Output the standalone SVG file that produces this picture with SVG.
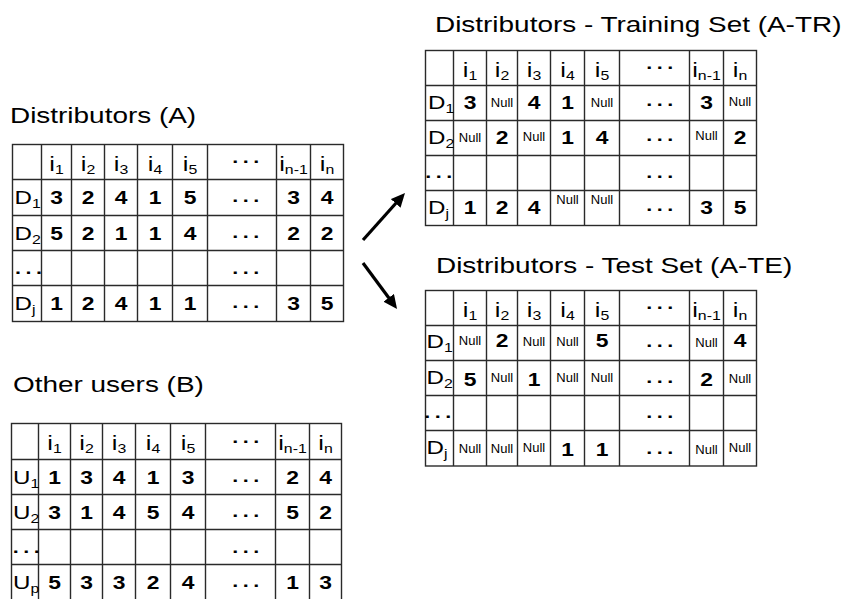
<svg xmlns="http://www.w3.org/2000/svg" width="847" height="599" viewBox="0 0 847 599">
<style>
text{font-family:"Liberation Sans",Arial,Helvetica,sans-serif;fill:#000}
.ti{font-size:22px}
.hd{font-size:20px;text-anchor:middle}
.sb{font-size:12.5px}
.lb{font-size:19px}
.nm{font-size:18px;font-weight:bold;text-anchor:middle}
.nl{font-size:13px;text-anchor:middle}
.dt{font-size:17px;font-weight:bold;text-anchor:middle;letter-spacing:3.5px}
.grid{fill:none;stroke:#2a2a2a;stroke-width:1.4}
.arr{stroke:#000;stroke-width:3.2;fill:none}
</style>
<defs>
<marker id="ah" markerUnits="userSpaceOnUse" markerWidth="14" markerHeight="13" refX="5" refY="6.5" orient="auto">
<path d="M0,0 L14,6.5 L0,13 z" fill="#000"/>
</marker>
</defs>
<rect width="847" height="599" fill="#fff"/>

<g id="tableA">
<text class="ti" transform="translate(10 123) scale(1.27 1)">Distributors (A)</text>
<rect class="grid" x="12.5" y="144.5" width="331" height="177"/>
<path class="grid" d="M41.5,144.5V321.5M71.5,144.5V321.5M104.5,144.5V321.5M137.5,144.5V321.5M172.5,144.5V321.5M207.5,144.5V321.5M276.5,144.5V321.5M310.5,144.5V321.5M12.5,179.5H343.5M12.5,215.5H343.5M12.5,250.5H343.5M12.5,285.5H343.5"/>
<text class="hd" transform="translate(56.5 170.5) scale(1.27 1)">i<tspan class="sb" dy="3">1</tspan></text>
<text class="hd" transform="translate(88 170.5) scale(1.27 1)">i<tspan class="sb" dy="3">2</tspan></text>
<text class="hd" transform="translate(121 170.5) scale(1.27 1)">i<tspan class="sb" dy="3">3</tspan></text>
<text class="hd" transform="translate(155 170.5) scale(1.27 1)">i<tspan class="sb" dy="3">4</tspan></text>
<text class="hd" transform="translate(190 170.5) scale(1.27 1)">i<tspan class="sb" dy="3">5</tspan></text>
<text class="dt" transform="translate(248 163) scale(1.27 1)">...</text>
<text class="hd" transform="translate(293.5 170.5) scale(1.27 1)">i<tspan class="sb" dy="3">n-1</tspan></text>
<text class="hd" transform="translate(327 170.5) scale(1.27 1)">i<tspan class="sb" dy="3">n</tspan></text>
<text class="lb" transform="translate(14.5 204) scale(1.27 1)">D<tspan class="sb" dy="4">1</tspan></text>
<text class="nm" transform="translate(56.5 204) scale(1.27 1)">3</text>
<text class="nm" transform="translate(88 204) scale(1.27 1)">2</text>
<text class="nm" transform="translate(121 204) scale(1.27 1)">4</text>
<text class="nm" transform="translate(155 204) scale(1.27 1)">1</text>
<text class="nm" transform="translate(190 204) scale(1.27 1)">5</text>
<text class="dt" transform="translate(248 202) scale(1.27 1)">...</text>
<text class="nm" transform="translate(293.5 204) scale(1.27 1)">3</text>
<text class="nm" transform="translate(327 204) scale(1.27 1)">4</text>
<text class="lb" transform="translate(14.5 239.5) scale(1.27 1)">D<tspan class="sb" dy="4">2</tspan></text>
<text class="nm" transform="translate(56.5 239.5) scale(1.27 1)">5</text>
<text class="nm" transform="translate(88 239.5) scale(1.27 1)">2</text>
<text class="nm" transform="translate(121 239.5) scale(1.27 1)">1</text>
<text class="nm" transform="translate(155 239.5) scale(1.27 1)">1</text>
<text class="nm" transform="translate(190 239.5) scale(1.27 1)">4</text>
<text class="dt" transform="translate(248 237.5) scale(1.27 1)">...</text>
<text class="nm" transform="translate(293.5 239.5) scale(1.27 1)">2</text>
<text class="nm" transform="translate(327 239.5) scale(1.27 1)">2</text>
<text class="dt" transform="translate(30.7 273.5) scale(1.27 1)">...</text>
<text class="dt" transform="translate(248 273.5) scale(1.27 1)">...</text>
<text class="lb" transform="translate(14.5 310) scale(1.27 1)">D<tspan class="sb" dy="4">j</tspan></text>
<text class="nm" transform="translate(56.5 310) scale(1.27 1)">1</text>
<text class="nm" transform="translate(88 310) scale(1.27 1)">2</text>
<text class="nm" transform="translate(121 310) scale(1.27 1)">4</text>
<text class="nm" transform="translate(155 310) scale(1.27 1)">1</text>
<text class="nm" transform="translate(190 310) scale(1.27 1)">1</text>
<text class="dt" transform="translate(248 308) scale(1.27 1)">...</text>
<text class="nm" transform="translate(293.5 310) scale(1.27 1)">3</text>
<text class="nm" transform="translate(327 310) scale(1.27 1)">5</text>
</g>

<g id="tableB">
<text class="ti" transform="translate(13 392) scale(1.27 1)">Other users (B)</text>
<rect class="grid" x="11.5" y="423.5" width="330" height="177"/>
<path class="grid" d="M38.5,423.5V600.5M70.5,423.5V600.5M102.5,423.5V600.5M135.5,423.5V600.5M170.5,423.5V600.5M205.5,423.5V600.5M275.5,423.5V600.5M309.5,423.5V600.5M11.5,459.5H341.5M11.5,494.5H341.5M11.5,529.5H341.5M11.5,564.5H341.5"/>
<text class="hd" transform="translate(54.5 450) scale(1.27 1)">i<tspan class="sb" dy="3">1</tspan></text>
<text class="hd" transform="translate(86.5 450) scale(1.27 1)">i<tspan class="sb" dy="3">2</tspan></text>
<text class="hd" transform="translate(119 450) scale(1.27 1)">i<tspan class="sb" dy="3">3</tspan></text>
<text class="hd" transform="translate(153 450) scale(1.27 1)">i<tspan class="sb" dy="3">4</tspan></text>
<text class="hd" transform="translate(188 450) scale(1.27 1)">i<tspan class="sb" dy="3">5</tspan></text>
<text class="dt" transform="translate(248 442.5) scale(1.27 1)">...</text>
<text class="hd" transform="translate(292.5 450) scale(1.27 1)">i<tspan class="sb" dy="3">n-1</tspan></text>
<text class="hd" transform="translate(325.5 450) scale(1.27 1)">i<tspan class="sb" dy="3">n</tspan></text>
<text class="lb" transform="translate(13 483.5) scale(1.27 1)">U<tspan class="sb" dy="4">1</tspan></text>
<text class="nm" transform="translate(54.5 483.5) scale(1.27 1)">1</text>
<text class="nm" transform="translate(86.5 483.5) scale(1.27 1)">3</text>
<text class="nm" transform="translate(119 483.5) scale(1.27 1)">4</text>
<text class="nm" transform="translate(153 483.5) scale(1.27 1)">1</text>
<text class="nm" transform="translate(188 483.5) scale(1.27 1)">3</text>
<text class="dt" transform="translate(248 481.5) scale(1.27 1)">...</text>
<text class="nm" transform="translate(292.5 483.5) scale(1.27 1)">2</text>
<text class="nm" transform="translate(325.5 483.5) scale(1.27 1)">4</text>
<text class="lb" transform="translate(13 518.5) scale(1.27 1)">U<tspan class="sb" dy="4">2</tspan></text>
<text class="nm" transform="translate(54.5 518.5) scale(1.27 1)">3</text>
<text class="nm" transform="translate(86.5 518.5) scale(1.27 1)">1</text>
<text class="nm" transform="translate(119 518.5) scale(1.27 1)">4</text>
<text class="nm" transform="translate(153 518.5) scale(1.27 1)">5</text>
<text class="nm" transform="translate(188 518.5) scale(1.27 1)">4</text>
<text class="dt" transform="translate(248 516.5) scale(1.27 1)">...</text>
<text class="nm" transform="translate(292.5 518.5) scale(1.27 1)">5</text>
<text class="nm" transform="translate(325.5 518.5) scale(1.27 1)">2</text>
<text class="dt" transform="translate(28.5 552.5) scale(1.27 1)">...</text>
<text class="dt" transform="translate(248 552.5) scale(1.27 1)">...</text>
<text class="lb" transform="translate(13 589) scale(1.27 1)">U<tspan class="sb" dy="4">p</tspan></text>
<text class="nm" transform="translate(54.5 589) scale(1.27 1)">5</text>
<text class="nm" transform="translate(86.5 589) scale(1.27 1)">3</text>
<text class="nm" transform="translate(119 589) scale(1.27 1)">3</text>
<text class="nm" transform="translate(153 589) scale(1.27 1)">2</text>
<text class="nm" transform="translate(188 589) scale(1.27 1)">4</text>
<text class="dt" transform="translate(248 587) scale(1.27 1)">...</text>
<text class="nm" transform="translate(292.5 589) scale(1.27 1)">1</text>
<text class="nm" transform="translate(325.5 589) scale(1.27 1)">3</text>
</g>

<g id="tableTR">
<text class="ti" transform="translate(435 32) scale(1.27 1)">Distributors - Training Set (A-TR)</text>
<rect class="grid" x="425.5" y="50.5" width="331" height="175"/>
<path class="grid" d="M453.5,50.5V225.5M486.5,50.5V225.5M517.5,50.5V225.5M550.5,50.5V225.5M584.5,50.5V225.5M619.5,50.5V225.5M689.5,50.5V225.5M723.5,50.5V225.5M425.5,85.5H756.5M425.5,120.5H756.5M425.5,155.5H756.5M425.5,190.5H756.5"/>
<text class="hd" transform="translate(470 76.5) scale(1.27 1)">i<tspan class="sb" dy="3">1</tspan></text>
<text class="hd" transform="translate(502 76.5) scale(1.27 1)">i<tspan class="sb" dy="3">2</tspan></text>
<text class="hd" transform="translate(534 76.5) scale(1.27 1)">i<tspan class="sb" dy="3">3</tspan></text>
<text class="hd" transform="translate(567.5 76.5) scale(1.27 1)">i<tspan class="sb" dy="3">4</tspan></text>
<text class="hd" transform="translate(602 76.5) scale(1.27 1)">i<tspan class="sb" dy="3">5</tspan></text>
<text class="dt" transform="translate(662 69) scale(1.27 1)">...</text>
<text class="hd" transform="translate(706.5 76.5) scale(1.27 1)">i<tspan class="sb" dy="3">n-1</tspan></text>
<text class="hd" transform="translate(740 76.5) scale(1.27 1)">i<tspan class="sb" dy="3">n</tspan></text>
<text class="lb" transform="translate(428 108.5) scale(1.27 1)">D<tspan class="sb" dy="4">1</tspan></text>
<text class="nm" transform="translate(470 108.5) scale(1.27 1)">3</text>
<text class="nl" x="502" y="106.5">Null</text>
<text class="nm" transform="translate(534 108.5) scale(1.27 1)">4</text>
<text class="nm" transform="translate(567.5 108.5) scale(1.27 1)">1</text>
<text class="nl" x="602" y="106.5">Null</text>
<text class="dt" transform="translate(662 106) scale(1.27 1)">...</text>
<text class="nm" transform="translate(706.5 108.5) scale(1.27 1)">3</text>
<text class="nl" x="740" y="106">Null</text>
<text class="lb" transform="translate(428 143.5) scale(1.27 1)">D<tspan class="sb" dy="4">2</tspan></text>
<text class="nl" x="470" y="141.5">Null</text>
<text class="nm" transform="translate(502 143.5) scale(1.27 1)">2</text>
<text class="nl" x="534" y="141">Null</text>
<text class="nm" transform="translate(567.5 143.5) scale(1.27 1)">1</text>
<text class="nm" transform="translate(602 143.5) scale(1.27 1)">4</text>
<text class="dt" transform="translate(662 141) scale(1.27 1)">...</text>
<text class="nl" x="706.5" y="140">Null</text>
<text class="nm" transform="translate(740 143.5) scale(1.27 1)">2</text>
<text class="dt" transform="translate(441 177.5) scale(1.27 1)">...</text>
<text class="dt" transform="translate(662 177.5) scale(1.27 1)">...</text>
<text class="lb" transform="translate(428 213.5) scale(1.27 1)">D<tspan class="sb" dy="4">j</tspan></text>
<text class="nm" transform="translate(470 213.5) scale(1.27 1)">1</text>
<text class="nm" transform="translate(502 213.5) scale(1.27 1)">2</text>
<text class="nm" transform="translate(534 213.5) scale(1.27 1)">4</text>
<text class="nl" x="567.5" y="204">Null</text>
<text class="nl" x="602" y="204">Null</text>
<text class="dt" transform="translate(662 211) scale(1.27 1)">...</text>
<text class="nm" transform="translate(706.5 213.5) scale(1.27 1)">3</text>
<text class="nm" transform="translate(740 213.5) scale(1.27 1)">5</text>
</g>

<g id="tableTE">
<text class="ti" transform="translate(436 273) scale(1.27 1)">Distributors - Test Set (A-TE)</text>
<rect class="grid" x="425.5" y="290.5" width="331" height="175.5"/>
<path class="grid" d="M453.5,290.5V466M486.5,290.5V466M517.5,290.5V466M550.5,290.5V466M584.5,290.5V466M619.5,290.5V466M689.5,290.5V466M723.5,290.5V466M425.5,325.5H756.5M425.5,360.5H756.5M425.5,395.5H756.5M425.5,430.5H756.5"/>
<text class="hd" transform="translate(470 316.5) scale(1.27 1)">i<tspan class="sb" dy="3">1</tspan></text>
<text class="hd" transform="translate(502 316.5) scale(1.27 1)">i<tspan class="sb" dy="3">2</tspan></text>
<text class="hd" transform="translate(534 316.5) scale(1.27 1)">i<tspan class="sb" dy="3">3</tspan></text>
<text class="hd" transform="translate(567.5 316.5) scale(1.27 1)">i<tspan class="sb" dy="3">4</tspan></text>
<text class="hd" transform="translate(602 316.5) scale(1.27 1)">i<tspan class="sb" dy="3">5</tspan></text>
<text class="dt" transform="translate(662 309) scale(1.27 1)">...</text>
<text class="hd" transform="translate(706.5 316.5) scale(1.27 1)">i<tspan class="sb" dy="3">n-1</tspan></text>
<text class="hd" transform="translate(740 316.5) scale(1.27 1)">i<tspan class="sb" dy="3">n</tspan></text>
<text class="lb" transform="translate(426.5 348) scale(1.27 1)">D<tspan class="sb" dy="4">1</tspan></text>
<text class="nl" x="470" y="345">Null</text>
<text class="nm" transform="translate(502 347) scale(1.27 1)">2</text>
<text class="nl" x="534" y="346">Null</text>
<text class="nl" x="567.5" y="346">Null</text>
<text class="nm" transform="translate(602 347) scale(1.27 1)">5</text>
<text class="dt" transform="translate(662 347) scale(1.27 1)">...</text>
<text class="nl" x="706.5" y="346.5">Null</text>
<text class="nm" transform="translate(740 347) scale(1.27 1)">4</text>
<text class="lb" transform="translate(426.5 383.5) scale(1.27 1)">D<tspan class="sb" dy="4">2</tspan></text>
<text class="nm" transform="translate(470 385.5) scale(1.27 1)">5</text>
<text class="nl" x="502" y="381.5">Null</text>
<text class="nm" transform="translate(534 386) scale(1.27 1)">1</text>
<text class="nl" x="567.5" y="382">Null</text>
<text class="nl" x="602" y="382">Null</text>
<text class="dt" transform="translate(662 383) scale(1.27 1)">...</text>
<text class="nm" transform="translate(706.5 385.5) scale(1.27 1)">2</text>
<text class="nl" x="740" y="382.5">Null</text>
<text class="dt" transform="translate(440 418) scale(1.27 1)">...</text>
<text class="dt" transform="translate(662 418) scale(1.27 1)">...</text>
<text class="lb" transform="translate(426.5 454) scale(1.27 1)">D<tspan class="sb" dy="4">j</tspan></text>
<text class="nl" x="470" y="452.5">Null</text>
<text class="nl" x="502" y="452.5">Null</text>
<text class="nl" x="534" y="452">Null</text>
<text class="nm" transform="translate(567.5 455.5) scale(1.27 1)">1</text>
<text class="nm" transform="translate(602 455.5) scale(1.27 1)">1</text>
<text class="dt" transform="translate(662 454) scale(1.27 1)">...</text>
<text class="nl" x="706.5" y="454">Null</text>
<text class="nl" x="740" y="451.5">Null</text>
</g>

<g id="connectors">
<line class="arr" x1="363" y1="240" x2="399" y2="199.7" marker-end="url(#ah)"/>
<line class="arr" x1="363" y1="263" x2="391.7" y2="301.8" marker-end="url(#ah)"/>
</g>
</svg>
